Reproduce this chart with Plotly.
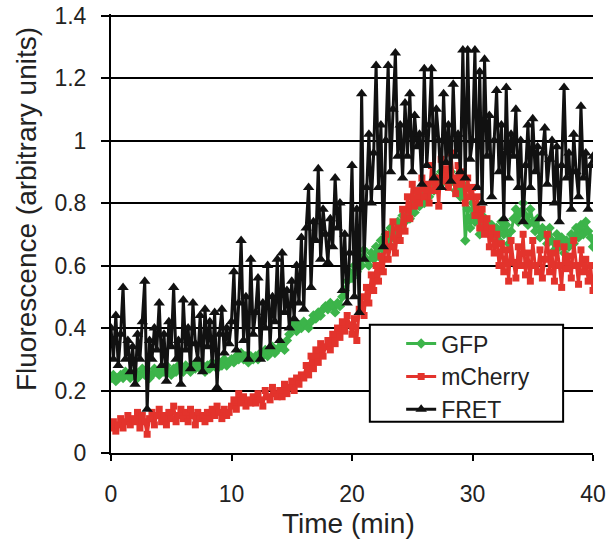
import plotly.graph_objects as go

# ---- data (0.2 min sampling) ----
time_step = 0.2
n_points = 201
times = [round(i * time_step, 1) for i in range(n_points)]

gfp = [
    0.24, 0.25, 0.23, 0.24, 0.25, 0.24, 0.26, 0.25, 0.24, 0.25,
    0.26, 0.24, 0.25, 0.27, 0.25, 0.26, 0.24, 0.25, 0.27, 0.26,
    0.25, 0.27, 0.26, 0.28, 0.26, 0.25, 0.27, 0.26, 0.28, 0.27,
    0.26, 0.28, 0.27, 0.26, 0.28, 0.27, 0.29, 0.27, 0.28, 0.26,
    0.28, 0.27, 0.29, 0.28, 0.27, 0.29, 0.28, 0.30, 0.28, 0.29,
    0.30, 0.29, 0.31, 0.30, 0.32, 0.30, 0.31, 0.29, 0.31, 0.30,
    0.31, 0.30, 0.32, 0.31, 0.33, 0.31, 0.32, 0.34, 0.32, 0.33,
    0.34, 0.35, 0.33, 0.36, 0.38, 0.40, 0.42, 0.39, 0.41, 0.40,
    0.42, 0.41, 0.40, 0.42, 0.44, 0.43, 0.45, 0.44, 0.46, 0.47,
    0.46, 0.48, 0.47, 0.45, 0.48, 0.47, 0.50, 0.52, 0.55, 0.58,
    0.56, 0.60, 0.58, 0.63, 0.60, 0.65, 0.62, 0.60, 0.64, 0.62,
    0.66, 0.63, 0.68, 0.65, 0.70, 0.67, 0.72, 0.69, 0.71, 0.74,
    0.72, 0.76, 0.74, 0.78, 0.75, 0.80, 0.77, 0.82, 0.79, 0.83,
    0.80, 0.85, 0.82, 0.86, 0.84, 0.88, 0.85, 0.90, 0.87, 0.89,
    0.86, 0.90, 0.87, 0.84, 0.88, 0.82, 0.86, 0.68, 0.78, 0.72,
    0.80, 0.74, 0.78, 0.70, 0.76, 0.72, 0.74, 0.70, 0.73, 0.69,
    0.72, 0.68, 0.74, 0.70, 0.73, 0.67, 0.71, 0.75, 0.78, 0.74,
    0.77, 0.80, 0.76, 0.73, 0.78, 0.74, 0.71, 0.75, 0.69, 0.72,
    0.70, 0.67, 0.72, 0.68, 0.65, 0.70, 0.66, 0.69, 0.64, 0.68,
    0.66, 0.70, 0.67, 0.72, 0.69, 0.73, 0.70, 0.74, 0.71, 0.69,
    0.66,
]

mcherry = [
    0.08, 0.10, 0.07, 0.09, 0.11, 0.08, 0.10, 0.12, 0.09, 0.11,
    0.10, 0.13, 0.08, 0.12, 0.10, 0.06, 0.11, 0.13, 0.09, 0.12,
    0.14, 0.10, 0.12, 0.09, 0.13, 0.11, 0.15, 0.10, 0.12, 0.14,
    0.11, 0.13, 0.10, 0.14, 0.12, 0.09, 0.13, 0.11, 0.12, 0.10,
    0.13, 0.11, 0.14, 0.12, 0.15, 0.13, 0.11, 0.14, 0.12, 0.13,
    0.15, 0.17, 0.14, 0.19, 0.16, 0.18, 0.15, 0.17, 0.16, 0.18,
    0.16, 0.19, 0.17, 0.15, 0.20, 0.18, 0.17, 0.21, 0.19, 0.18,
    0.20, 0.18, 0.22, 0.19, 0.21, 0.23, 0.20, 0.24, 0.22, 0.25,
    0.24, 0.28, 0.25, 0.31, 0.27, 0.33, 0.29, 0.35, 0.31, 0.34,
    0.36, 0.33, 0.38, 0.35, 0.40, 0.37, 0.42, 0.39, 0.44, 0.41,
    0.38, 0.43, 0.36, 0.46, 0.50, 0.44, 0.53, 0.48, 0.57, 0.52,
    0.60, 0.55, 0.63, 0.58, 0.70, 0.62, 0.66, 0.74, 0.64, 0.72,
    0.68, 0.78, 0.71, 0.82, 0.75, 0.86, 0.79, 0.84, 0.80, 0.88,
    0.82, 0.86, 0.80, 0.92, 0.84, 0.88, 0.79, 0.94, 0.87, 0.91,
    0.85, 0.96, 0.88, 0.83, 0.92, 0.86, 0.90, 0.80, 0.88, 0.82,
    0.85, 0.76, 0.82, 0.72, 0.78, 0.70, 0.75, 0.66, 0.72, 0.64,
    0.70, 0.60, 0.67, 0.58, 0.65, 0.55, 0.68, 0.61, 0.56, 0.66,
    0.60, 0.70, 0.57, 0.64, 0.55, 0.68, 0.60, 0.58, 0.65, 0.56,
    0.62, 0.70, 0.58, 0.64, 0.55, 0.67, 0.60, 0.53, 0.66, 0.59,
    0.63, 0.56, 0.68, 0.60, 0.54, 0.65, 0.58, 0.62, 0.55, 0.60,
    0.52,
]

fret = [
    0.40, 0.30, 0.44, 0.28, 0.38, 0.53, 0.30, 0.36, 0.26, 0.34,
    0.22, 0.38, 0.30, 0.42, 0.55, 0.14, 0.36, 0.30, 0.40, 0.33,
    0.48, 0.28, 0.38, 0.23, 0.42, 0.34, 0.53, 0.30, 0.36, 0.22,
    0.49, 0.33, 0.40, 0.27, 0.48, 0.35, 0.30, 0.44, 0.26, 0.46,
    0.34, 0.42, 0.28, 0.45, 0.21, 0.38, 0.46, 0.32, 0.40, 0.35,
    0.42, 0.58, 0.33, 0.48, 0.68, 0.36, 0.50, 0.30, 0.62, 0.38,
    0.45, 0.56, 0.30, 0.48, 0.40, 0.60, 0.34, 0.50, 0.42, 0.62,
    0.36, 0.64, 0.45, 0.52, 0.40, 0.55, 0.43, 0.60, 0.48, 0.69,
    0.46, 0.72, 0.85, 0.53, 0.74, 0.68, 0.91, 0.62, 0.78, 0.70,
    0.61, 0.75, 0.66, 0.88, 0.72, 0.80, 0.52, 0.70, 0.48, 0.64,
    0.92, 0.50, 0.78, 0.45, 1.15, 0.62, 0.85, 1.02, 0.80, 0.96,
    1.24, 0.85, 1.05, 0.66, 1.00, 1.24, 0.90, 1.10, 1.28, 0.95,
    1.05, 0.88, 1.12, 0.95, 1.15, 0.90, 1.08, 0.98, 1.02, 0.86,
    1.23, 0.92, 1.05, 1.23, 0.88, 1.10, 1.00, 0.85, 1.15, 0.93,
    1.05, 0.87, 1.18, 0.95, 1.02, 0.90, 1.29, 0.88, 1.29, 0.94,
    1.00, 1.29, 0.85, 1.22, 0.80, 1.26, 0.95, 1.08, 0.82, 1.00,
    1.16, 0.90, 1.05, 0.75, 1.17, 0.88, 1.02, 0.95, 1.10, 0.85,
    1.00, 0.74, 0.92, 1.05, 0.85, 1.07, 0.90, 0.98, 0.75, 0.96,
    1.04, 0.86, 0.94, 1.00, 0.80, 0.98, 0.74, 0.92, 1.17, 0.88,
    0.96, 0.78, 1.02, 0.90, 0.82, 1.11, 0.88, 0.96, 0.78, 0.92,
    0.95,
]

series_names = ["GFP", "mCherry", "FRET"]
x_tick_vals = [0, 10, 20, 30, 40]
x_tick_text = ["0", "10", "20", "30", "40"]
y_tick_vals = [0, 0.2, 0.4, 0.6, 0.8, 1.0, 1.2, 1.4]
y_tick_text = ["0", "0.2", "0.4", "0.6", "0.8", "1", "1.2", "1.4"]
x_title = "Time (min)"
y_title = "Fluorescence (arbitrary units)"

# ---- figure ----
FONT = "Liberation Sans, Arial, sans-serif"
GREEN = "#3cb44a"
RED = "#e3332c"
BLACK = "#111111"
TEXT = "#222222"

fig = go.Figure()
fig.add_trace(go.Scatter(
    x=times, y=gfp, name=series_names[0], mode="lines+markers",
    line=dict(color=GREEN, width=3),
    marker=dict(symbol="diamond", size=8, color=GREEN),
))
fig.add_trace(go.Scatter(
    x=times, y=mcherry, name=series_names[1], mode="lines+markers",
    line=dict(color=RED, width=3),
    marker=dict(symbol="square", size=7, color=RED),
))
fig.add_trace(go.Scatter(
    x=times, y=fret, name=series_names[2], mode="lines+markers",
    line=dict(color=BLACK, width=3),
    marker=dict(symbol="triangle-up", size=10, color=BLACK),
))

# Plot area on screen: x 111..593, y ~14..453 (1.4 gridline at ~16).
fig.update_layout(
    width=614, height=544,
    margin=dict(l=111, r=21, t=14, b=91, pad=0),
    paper_bgcolor="white", plot_bgcolor="white",
    font=dict(family=FONT, color=TEXT, size=23),
    showlegend=True,
    legend=dict(
        x=0.602, xanchor="left", y=0.174, yanchor="middle",
        bgcolor="rgba(0,0,0,0)", borderwidth=0,
        font=dict(family=FONT, size=23, color=TEXT),
        tracegroupgap=0,
    ),
    xaxis=dict(
        range=[0, 40], tickmode="array", tickvals=x_tick_vals, ticktext=x_tick_text,
        showgrid=False, zeroline=False, automargin=False,
        showline=True, linecolor="black", linewidth=2,
        ticks="outside", ticklen=6, tickwidth=2, tickcolor="black",
        tickfont=dict(family=FONT, size=23, color=TEXT),
        ticklabelstandoff=13, ticklabeloverflow="allow",
    ),
    yaxis=dict(
        range=[0, 1.405], tickmode="array", tickvals=y_tick_vals, ticktext=y_tick_text,
        showgrid=True, gridcolor="black", gridwidth=2,
        zeroline=False, automargin=False,
        showline=True, linecolor="black", linewidth=2,
        ticks="outside", ticklen=8, tickwidth=2, tickcolor="black",
        tickfont=dict(family=FONT, size=23, color=TEXT),
        ticklabelstandoff=10, ticklabeloverflow="allow",
    ),
    shapes=[dict(
        type="rect", xref="paper", yref="paper",
        x0=0.537, x1=0.938, y0=0.071, y1=0.292,
        fillcolor="white", line=dict(color="black", width=2), layer="above",
    )],
    annotations=[
        dict(text=y_title, xref="paper", yref="paper", x=-0.174, y=0.556,
             xanchor="center", yanchor="middle", textangle=-90, showarrow=False,
             font=dict(family=FONT, size=28, color=TEXT)),
        dict(text=x_title, xref="paper", yref="paper", x=0.492, y=-0.160,
             xanchor="center", yanchor="middle", showarrow=False,
             font=dict(family=FONT, size=28, color=TEXT)),
    ],
)

# remove the default 8px page margin so the figure sits at the window origin
fig.write_html(
    "out.html",
    config={"displayModeBar": False},
    post_script="document.body.style.margin='0';",
)
